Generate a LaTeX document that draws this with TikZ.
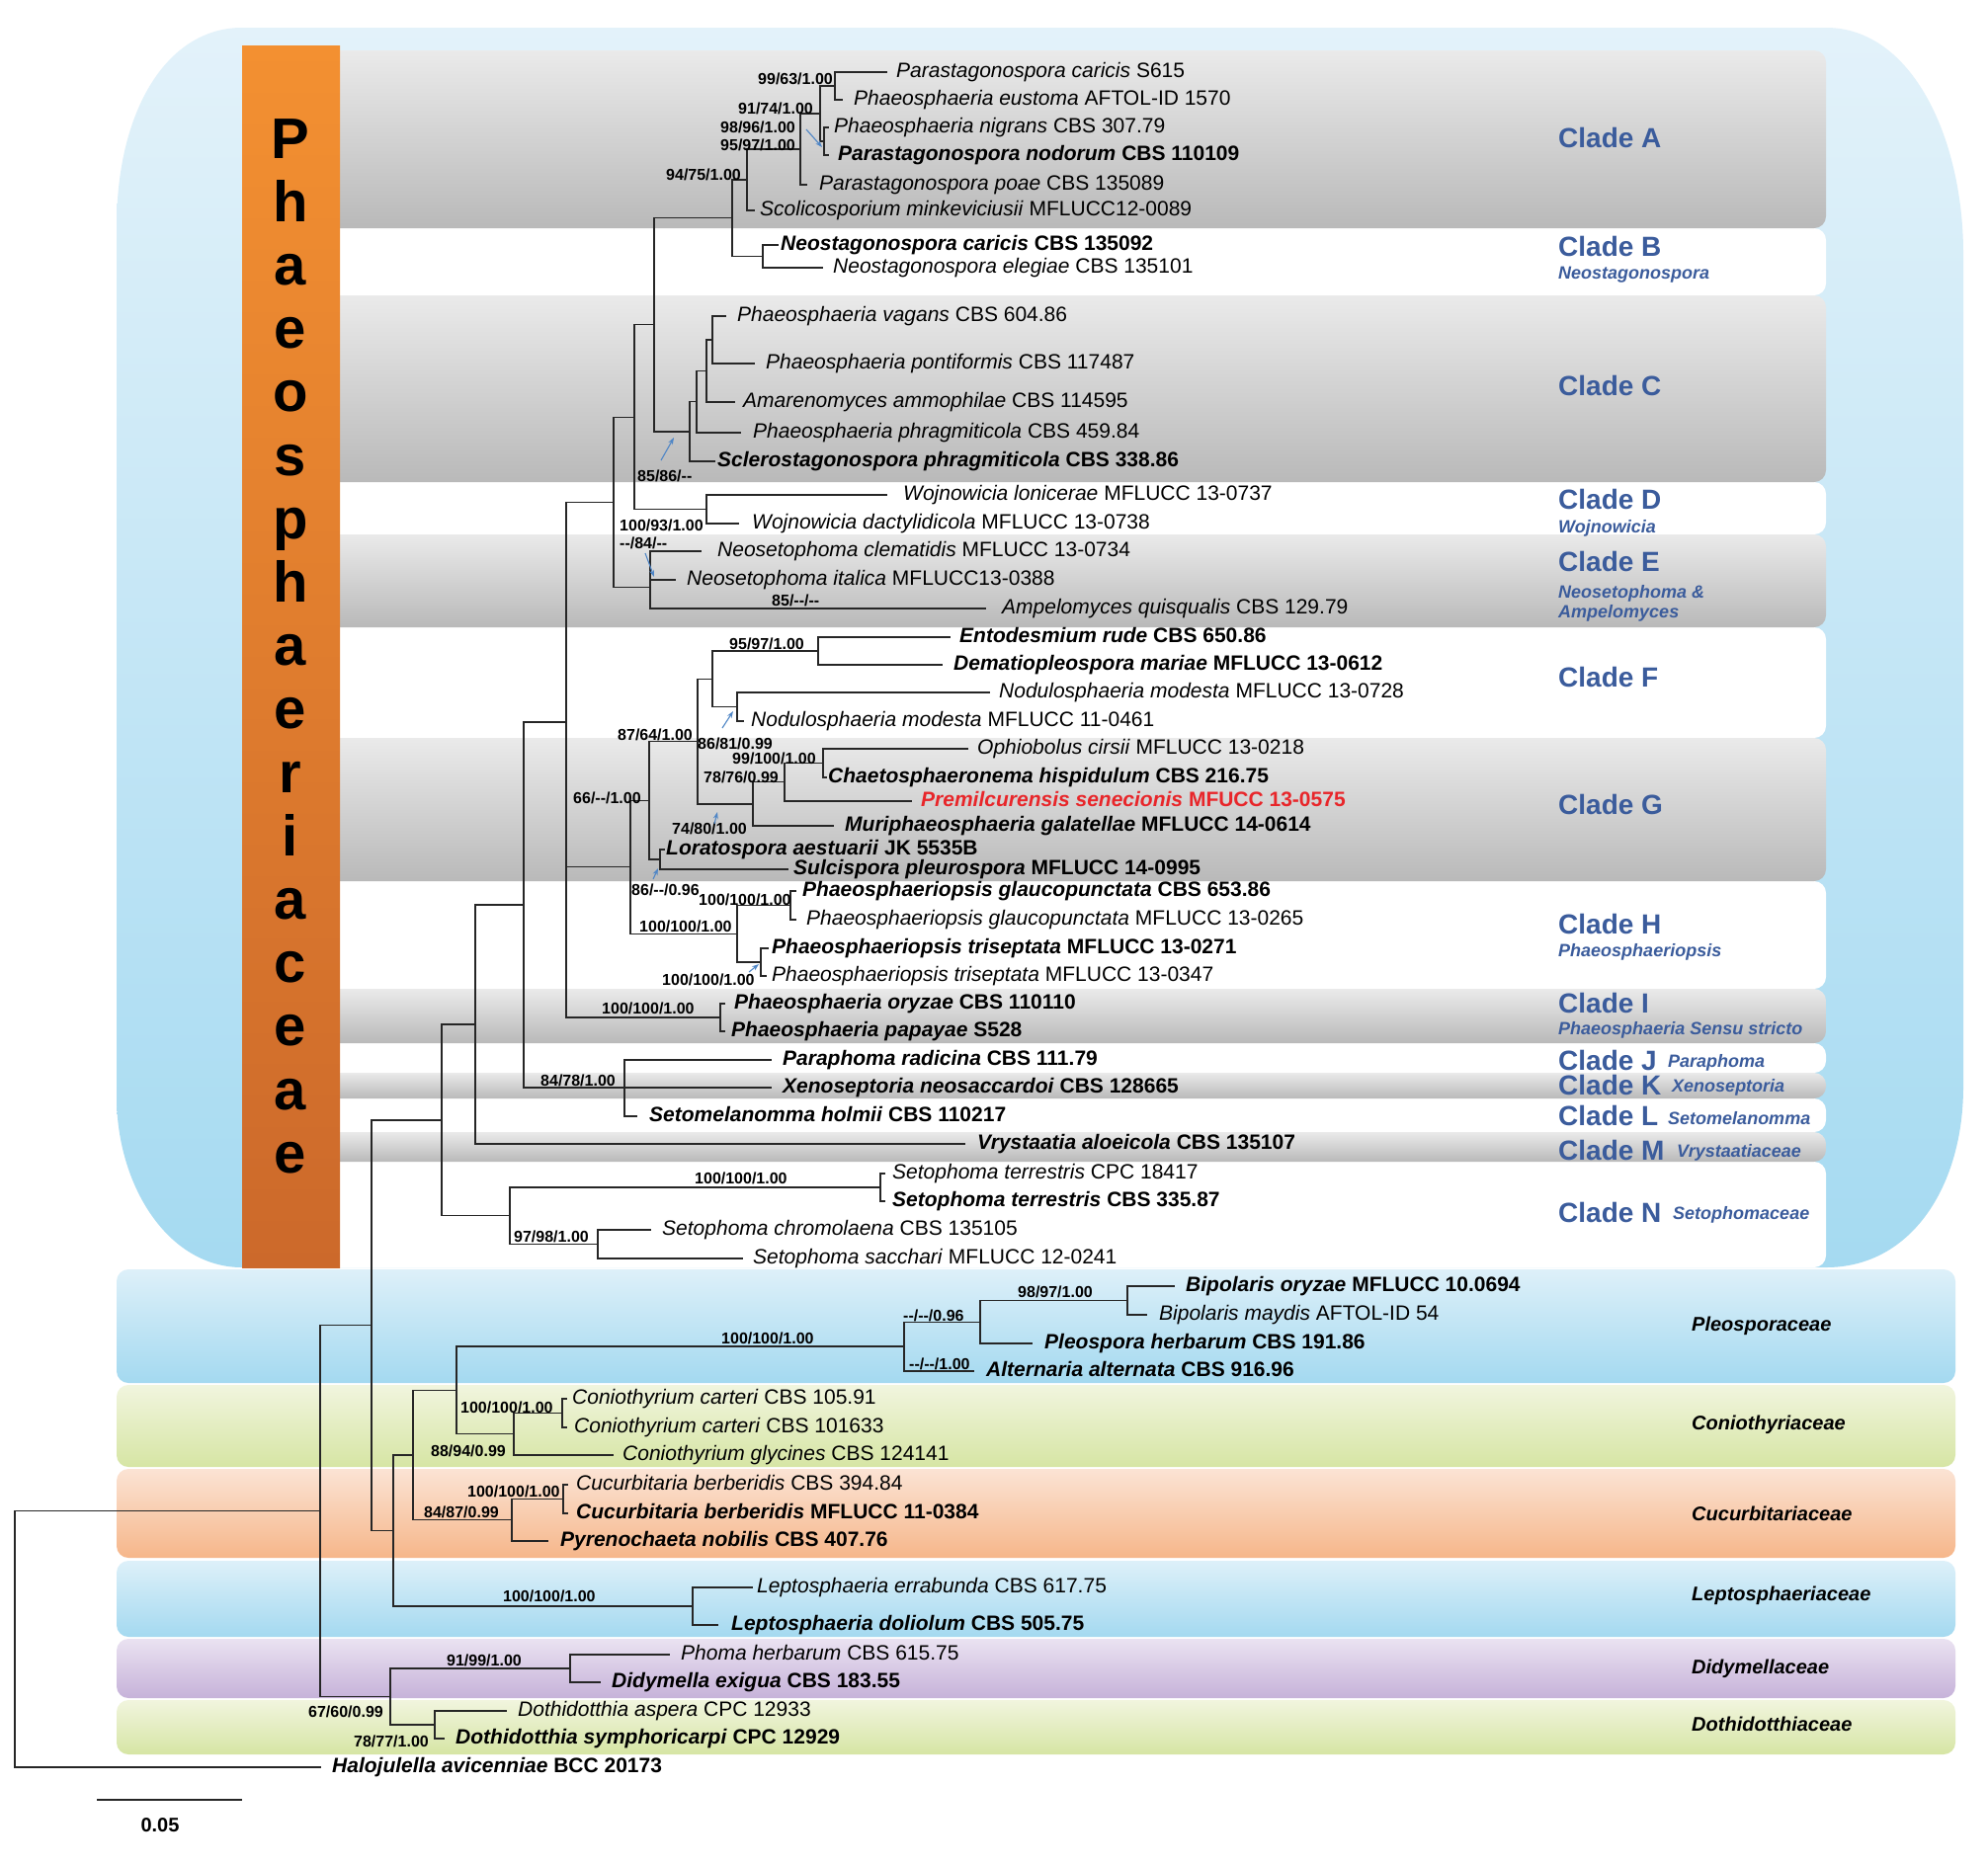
\documentclass[tikz,border=0pt]{standalone}
\usepackage{fontspec}
\setmainfont{Liberation Sans}
\usetikzlibrary{calc,arrows.meta}
\definecolor{cladeblue}{HTML}{3B5C9C}
\definecolor{arrowblue}{HTML}{4F86C6}
\definecolor{premred}{HTML}{E8262A}
\definecolor{blueTop}{HTML}{E3F2FA}
\definecolor{blueBot}{HTML}{A5DAF1}
\definecolor{orTop}{HTML}{F39031}
\definecolor{orBot}{HTML}{CC692B}
\definecolor{greyTop}{HTML}{EAEAEA}
\definecolor{greyBot}{HTML}{B9B9B9}
\definecolor{pleoTop}{HTML}{DDF0F9}
\definecolor{pleoBot}{HTML}{A4D9F0}
\definecolor{conTop}{HTML}{F1F5DE}
\definecolor{conBot}{HTML}{D6E5A4}
\definecolor{cucTop}{HTML}{FBE3D4}
\definecolor{cucBot}{HTML}{F6B68A}
\definecolor{didTop}{HTML}{EAE2F1}
\definecolor{didBot}{HTML}{C6B2D9}
\newcommand\fs[1]{\fontsize{#1}{#1}\selectfont}
\newcommand\tipr[6]{\coordinate (t#1) at (#2,#4); \node[taxon] (l#1) at (#3,#4) {\textit{#5} #6};}
\newcommand\tipb[6]{\coordinate (t#1) at (#2,#4); \node[taxon] (l#1) at (#3,#4) {\bfseries\textit{#5} #6};}
\newcommand\inode[4]{\path ($(#3)!0.5!(#4)$) coordinate (#1m); \coordinate (#1) at (#2,0 |- #1m); \draw[br] (#3) -- (#1 |- #3) -- (#1 |- #4) -- (#4);}
\tikzset{
  taxon/.style={anchor=west, inner sep=0pt, font=\fs{21}, text height=15pt, text depth=4.5pt},
  supp/.style={anchor=west, inner sep=0pt, font=\fs{16}\bfseries, text height=11.5pt, text depth=0.5pt},
  cladelbl/.style={anchor=west, inner sep=0pt, font=\fs{28}\bfseries, text=cladeblue},
  cladesub/.style={anchor=west, inner sep=0pt, font=\fs{18}\bfseries\itshape, text=cladeblue},
  famlbl/.style={anchor=west, inner sep=0pt, font=\fs{20}\bfseries\itshape},
  br/.style={draw=black!85, line width=1.3pt, line cap=rect},
  arr/.style={draw=arrowblue, line width=1.1pt, -{Stealth[length=7pt,width=5pt]}},
  greyband/.style={top color=greyTop, bottom color=greyBot, rounded corners=12pt},
  whiteband/.style={fill=white, rounded corners=12pt},
  famband/.style={rounded corners=12pt}
}
\begin{document}
\begin{tikzpicture}[x=1pt,y=-1pt]
\useasboundingbox (0,0) rectangle (2012,1888);
\fill[white] (0,0) rectangle (2012,1888);
% Phaeosphaeriaceae blue region
\path[top color=blueTop, bottom color=blueBot]
  (245,28) -- (1848,28) .. controls (1935,28) and (1987,140) .. (1987,257)
  -- (1987,1100) .. controls (1987,1200) and (1935,1283) .. (1848,1283)
  -- (245,1283) .. controls (170,1283) and (118,1200) .. (118,1110)
  -- (118,230) .. controls (118,110) and (170,28) .. (245,28) -- cycle;
% clade bands
\path[whiteband] (300,231) rectangle (1848,299);
\path[whiteband] (300,488) rectangle (1848,541);
\path[whiteband] (300,635) rectangle (1848,747);
\path[whiteband] (300,892) rectangle (1848,1001);
\path[whiteband] (300,1056) rectangle (1848,1086);
\path[whiteband] (300,1112) rectangle (1848,1146);
\path[whiteband] (300,1176) rectangle (1848,1283);
\path[greyband] (300,51) rectangle (1848,231);
\path[greyband] (300,299) rectangle (1848,488);
\path[greyband] (300,541) rectangle (1848,635);
\path[greyband] (300,747) rectangle (1848,892);
\path[greyband] (300,1001) rectangle (1848,1056);
\path[greyband] (300,1086) rectangle (1848,1112);
\path[greyband] (300,1146) rectangle (1848,1176);
% orange bar
\path[top color=orTop, bottom color=orBot] (245,46) rectangle (344,1283);
\foreach \ch [count=\i from 0] in {P,h,a,e,o,s,p,h,a,e,r,i,a,c,e,a,e}
  \node[anchor=base, inner sep=0pt, font=\fs{58}\bfseries] (ph\i) at (294,{160+\i*64.2}) {\ch};
% family bands
\path[famband, top color=pleoTop, bottom color=pleoBot] (118,1285) rectangle (1979,1400);
\path[famband, top color=conTop, bottom color=conBot] (118,1402) rectangle (1979,1485);
\path[famband, top color=cucTop, bottom color=cucBot] (118,1487) rectangle (1979,1577);
\path[famband, top color=pleoTop, bottom color=pleoBot] (118,1580) rectangle (1979,1657);
\path[famband, top color=didTop, bottom color=didBot] (118,1659) rectangle (1979,1719);
\path[famband, top color=conTop, bottom color=conBot] (118,1721) rectangle (1979,1776);
% tips
\tipr{1}{897}{907}{73}{Parastagonospora caricis}{S615}
\tipr{2}{852}{864}{101}{Phaeosphaeria eustoma}{AFTOL-ID 1570}
\tipr{3}{838}{844}{129}{Phaeosphaeria nigrans}{CBS 307.79}
\tipb{4}{838}{848}{157}{Parastagonospora nodorum}{CBS 110109}
\tipr{5}{816}{829}{187}{Parastagonospora poae}{CBS 135089}
\tipr{6}{763}{769}{213}{Scolicosporium minkeviciusii}{MFLUCC12-0089}
\tipb{7}{787}{790}{248}{Neostagonospora caricis}{CBS 135092}
\tipr{8}{832}{843}{271}{Neostagonospora elegiae}{CBS 135101}
\tipr{9}{734}{746}{320}{Phaeosphaeria vagans}{CBS 604.86}
\tipr{10}{763}{775}{368}{Phaeosphaeria pontiformis}{CBS 117487}
\tipr{11}{743}{752}{407}{Amarenomyces ammophilae}{CBS 114595}
\tipr{12}{749}{762}{438}{Phaeosphaeria phragmiticola}{CBS 459.84}
\tipb{13}{723}{726}{467}{Sclerostagonospora phragmiticola}{CBS 338.86}
\tipr{14}{897}{914}{501}{Wojnowicia lonicerae}{MFLUCC 13-0737}
\tipr{15}{747}{761}{530}{Wojnowicia dactylidicola}{MFLUCC 13-0738}
\tipr{16}{709}{726}{558}{Neosetophoma clematidis}{MFLUCC 13-0734}
\tipr{17}{683}{695}{587}{Neosetophoma italica}{MFLUCC13-0388}
\tipr{18}{997}{1014}{616}{Ampelomyces quisqualis}{CBS 129.79}
\tipb{19}{961}{971}{645}{Entodesmium rude}{CBS 650.86}
\tipb{20}{953}{965}{673}{Dematiopleospora mariae}{MFLUCC 13-0612}
\tipr{21}{1001}{1011}{701}{Nodulosphaeria modesta}{MFLUCC 13-0728}
\tipr{22}{752}{760}{730}{Nodulosphaeria modesta}{MFLUCC 11-0461}
\tipr{23}{979}{989}{758}{Ophiobolus cirsii}{MFLUCC 13-0218}
\tipb{24}{836}{838}{787}{Chaetosphaeronema hispidulum}{CBS 216.75}
\coordinate (t25) at (922,811);
\node[taxon, text=premred] (l25) at (932,811) {\bfseries\textit{Premilcurensis senecionis} MFUCC 13-0575};
\tipb{26}{843}{855}{836}{Muriphaeosphaeria galatellae}{MFLUCC 14-0614}
\tipb{27}{672}{674}{860}{Loratospora aestuarii}{JK 5535B}
\tipb{28}{797}{803}{880}{Sulcispora pleurospora}{MFLUCC 14-0995}
\tipb{29}{805}{812}{902}{Phaeosphaeriopsis glaucopunctata}{CBS 653.86}
\tipr{30}{805}{816}{931}{Phaeosphaeriopsis glaucopunctata}{MFLUCC 13-0265}
\tipb{31}{777}{781}{960}{Phaeosphaeriopsis triseptata}{MFLUCC 13-0271}
\tipr{32}{775}{781}{988}{Phaeosphaeriopsis triseptata}{MFLUCC 13-0347}
\tipb{33}{733}{743}{1016}{Phaeosphaeria oryzae}{CBS 110110}
\tipb{34}{733}{740}{1044}{Phaeosphaeria papayae}{S528}
\tipb{35}{780}{792}{1073}{Paraphoma radicina}{CBS 111.79}
\tipb{36}{780}{792}{1101}{Xenoseptoria neosaccardoi}{CBS 128665}
\tipb{37}{644}{657}{1130}{Setomelanomma holmii}{CBS 110217}
\tipb{38}{976}{989}{1158}{Vrystaatia aloeicola}{CBS 135107}
\tipr{39}{895}{903}{1188}{Setophoma terrestris}{CPC 18417}
\tipb{40}{895}{903}{1216}{Setophoma terrestris}{CBS 335.87}
\tipr{41}{658}{670}{1245}{Setophoma chromolaena}{CBS 135105}
\tipr{42}{751}{762}{1274}{Setophoma sacchari}{MFLUCC 12-0241}
\tipb{43}{1188}{1200}{1302}{Bipolaris oryzae}{MFLUCC 10.0694}
\tipr{44}{1160}{1173}{1331}{Bipolaris maydis}{AFTOL-ID 54}
\tipb{45}{1044}{1057}{1360}{Pleospora herbarum}{CBS 191.86}
\tipb{46}{985}{998}{1388}{Alternaria alternata}{CBS 916.96}
\tipr{47}{573}{579}{1416}{Coniothyrium carteri}{CBS 105.91}
\tipr{48}{573}{581}{1445}{Coniothyrium carteri}{CBS 101633}
\tipr{49}{620}{630}{1473}{Coniothyrium glycines}{CBS 124141}
\tipr{50}{574}{583}{1503}{Cucurbitaria berberidis}{CBS 394.84}
\tipb{51}{574}{583}{1532}{Cucurbitaria berberidis}{MFLUCC 11-0384}
\tipb{52}{554}{567}{1560}{Pyrenochaeta nobilis}{CBS 407.76}
\tipr{53}{761}{766}{1607}{Leptosphaeria errabunda}{CBS 617.75}
\tipb{54}{726}{740}{1645}{Leptosphaeria doliolum}{CBS 505.75}
\tipr{55}{677}{689}{1675}{Phoma herbarum}{CBS 615.75}
\tipb{56}{607}{619}{1703}{Didymella exigua}{CBS 183.55}
\tipr{57}{512}{524}{1732}{Dothidotthia aspera}{CPC 12933}
\tipb{58}{449}{461}{1760}{Dothidotthia symphoricarpi}{CPC 12929}
\tipb{59}{324}{336}{1789}{Halojulella avicenniae}{BCC 20173}
% internal nodes
\inode{a1}{845}{t1}{t2}
\inode{a3}{834}{t3}{t4}
\inode{a2}{830}{a1}{a3}
\inode{a4}{810}{a2}{t5}
\inode{a5}{756}{a4}{t6}
\inode{nB}{772}{t7}{t8}
\inode{nAB}{741}{a5}{nB}
\inode{c1}{721}{t9}{t10}
\inode{c2}{715}{c1}{t11}
\inode{c3}{705}{c2}{t12}
\inode{c4}{698}{c3}{t13}
\inode{nABC}{662}{nAB}{c4}
\inode{nD}{715}{t14}{t15}
\inode{nABCD}{642}{nABC}{nD}
\inode{e1}{658}{t16}{t17}
\inode{e2}{658}{e1}{t18}
\inode{nABCDE}{621}{nABCD}{e2}
\inode{f1}{828}{t19}{t20}
\inode{f2}{746}{t21}{t22}
\inode{f3}{721}{f1}{f2}
\inode{g1}{833}{t23}{t24}
\inode{g2}{794}{g1}{t25}
\inode{g3}{762}{g2}{t26}
\inode{f4}{706}{f3}{g3}
\inode{lor}{668}{t27}{t28}
\inode{fg}{657}{f4}{lor}
\inode{h1}{800}{t29}{t30}
\inode{h2}{770}{t31}{t32}
\inode{h3}{746}{h1}{h2}
\inode{FGH}{638}{fg}{h3}
\inode{nI}{729}{t33}{t34}
\inode{X1}{573}{FGH}{nI}
\inode{X2}{573}{nABCDE}{X1}
\coordinate (JKL) at (632,0 |- t36);
\draw[br] (t35) -- (JKL |- t35) -- (JKL |- t37) -- (t37);
\draw[br] (JKL) -- (t36);
\inode{Y1}{530}{X2}{JKL}
\inode{Y2}{481}{Y1}{t38}
\inode{nT}{891}{t39}{t40}
\inode{n2}{605}{t41}{t42}
\inode{nN}{516}{nT}{n2}
\inode{Y3}{447}{Y2}{nN}
\inode{Bip}{1141}{t43}{t44}
\inode{P2}{992}{Bip}{t45}
\inode{P1}{915}{P2}{t46}
\inode{C2}{569}{t47}{t48}
\inode{C1}{520}{C2}{t49}
\inode{L3}{462}{P1}{C1}
\inode{Cu2}{570}{t50}{t51}
\inode{Cu1}{518}{Cu2}{t52}
\inode{L2}{418}{L3}{Cu1}
\inode{Lep}{701}{t53}{t54}
\inode{L1}{398}{L2}{Lep}
\inode{Z1}{376}{Y3}{L1}
\inode{Did}{577}{t55}{t56}
\inode{Dot}{440}{t57}{t58}
\inode{dd}{395}{Did}{Dot}
\inode{Z0}{324}{Z1}{dd}
\inode{root}{15}{Z0}{t59}
% support values
\node[supp] (s1) at (767,80) {99/63/1.00};
\node[supp] (s2) at (747,110) {91/74/1.00};
\node[supp] (s3) at (729,129) {98/96/1.00};
\node[supp] (s4) at (729,147) {95/97/1.00};
\node[supp] (s5) at (674,177) {94/75/1.00};
\node[supp] (s6) at (645,482) {85/86/-{}-};
\node[supp] (s7) at (627,532) {100/93/1.00};
\node[supp] (s8) at (627,550) {-{}-/84/-{}-};
\node[supp] (s9) at (781,608) {85/-{}-/-{}-};
\node[supp] (s10) at (738,652) {95/97/1.00};
\node[supp] (s11) at (625,744) {87/64/1.00};
\node[supp] (s12) at (706,753) {86/81/0.99};
\node[supp] (s13) at (741,768) {99/100/1.00};
\node[supp] (s14) at (712,787) {78/76/0.99};
\node[supp] (s15) at (580,808) {66/-{}-/1.00};
\node[supp] (s16) at (680,839) {74/80/1.00};
\node[supp] (s17) at (639,901) {86/-{}-/0.96};
\node[supp] (s18) at (707,911) {100/100/1.00};
\node[supp] (s19) at (647,938) {100/100/1.00};
\node[supp] (s20) at (670,992) {100/100/1.00};
\node[supp] (s21) at (609,1021) {100/100/1.00};
\node[supp] (s22) at (547,1094) {84/78/1.00};
\node[supp] (s23) at (703,1193) {100/100/1.00};
\node[supp] (s24) at (520,1252) {97/98/1.00};
\node[supp] (s25) at (1030,1308) {98/97/1.00};
\node[supp] (s26) at (914,1332) {-{}-/-{}-/0.96};
\node[supp] (s27) at (730,1355) {100/100/1.00};
\node[supp] (s28) at (920,1381) {-{}-/-{}-/1.00};
\node[supp] (s29) at (466,1425) {100/100/1.00};
\node[supp] (s30) at (436,1469) {88/94/0.99};
\node[supp] (s31) at (473,1510) {100/100/1.00};
\node[supp] (s32) at (429,1531) {84/87/0.99};
\node[supp] (s33) at (509,1616) {100/100/1.00};
\node[supp] (s34) at (452,1681) {91/99/1.00};
\node[supp] (s35) at (312,1733) {67/60/0.99};
\node[supp] (s36) at (358,1763) {78/77/1.00};
% pointer arrows
\coordinate (ar1s) at (816,131); \coordinate (ar1e) at (832,149);
\coordinate (ar2s) at (669,466); \coordinate (ar2e) at (682,443);
\coordinate (ar3s) at (653,560); \coordinate (ar3e) at (662,584);
\coordinate (ar4s) at (731,737); \coordinate (ar4e) at (742,720);
\coordinate (ar5s) at (723,834); \coordinate (ar5e) at (726,822);
\coordinate (ar6s) at (661,890); \coordinate (ar6e) at (666,879);
\coordinate (ar7s) at (758,984); \coordinate (ar7e) at (768,976);
\foreach \k in {1,...,7} \draw[arr] (ar\k s) -- (ar\k e);
% clade labels
\node[cladelbl] (cA) at (1577,139) {Clade A};
\node[cladelbl] (cB) at (1577,249) {Clade B};
\node[cladesub] (sB) at (1577,278) {Neostagonospora};
\node[cladelbl] (cC) at (1577,390) {Clade C};
\node[cladelbl] (cD) at (1577,505) {Clade D};
\node[cladesub] (sD) at (1577,535) {Wojnowicia};
\node[cladelbl] (cE) at (1577,568) {Clade E};
\node[cladesub] (sE1) at (1577,601) {Neosetophoma \&};
\node[cladesub] (sE2) at (1577,621) {Ampelomyces};
\node[cladelbl] (cF) at (1577,685) {Clade F};
\node[cladelbl] (cG) at (1577,814) {Clade G};
\node[cladelbl] (cH) at (1577,935) {Clade H};
\node[cladesub] (sH) at (1577,964) {Phaeosphaeriopsis};
\node[cladelbl] (cI) at (1577,1015) {Clade I};
\node[cladesub] (sI) at (1577,1043) {Phaeosphaeria Sensu stricto};
\node[cladelbl] (cJ) at (1577,1073) {Clade J};
\node[cladesub] (sJ) at (1688,1076) {Paraphoma};
\node[cladelbl] (cK) at (1577,1098) {Clade K};
\node[cladesub] (sK) at (1692,1101) {Xenoseptoria};
\node[cladelbl] (cL) at (1577,1129) {Clade L};
\node[cladesub] (sL) at (1688,1132) {Setomelanomma};
\node[cladelbl] (cM) at (1577,1164) {Clade M};
\node[cladesub] (sM) at (1697,1167) {Vrystaatiaceae};
\node[cladelbl] (cN) at (1577,1227) {Clade N};
\node[cladesub] (sN) at (1693,1230) {Setophomaceae};
% family labels
\node[famlbl] (fPl) at (1712,1342) {Pleosporaceae};
\node[famlbl] (fCo) at (1712,1442) {Coniothyriaceae};
\node[famlbl] (fCu) at (1712,1532) {Cucurbitariaceae};
\node[famlbl] (fLe) at (1712,1615) {Leptosphaeriaceae};
\node[famlbl] (fDi) at (1712,1689) {Didymellaceae};
\node[famlbl] (fDo) at (1712,1745) {Dothidotthiaceae};
% scale bar
\coordinate (sb1) at (98,1822); \coordinate (sb2) at (245,1822);
\draw[line width=2.5pt, black!85] (sb1) -- (sb2);
\node[font=\fs{20}\bfseries, inner sep=0pt] (sbl) at (162,1848) {0.05};
\end{tikzpicture}
\end{document}
